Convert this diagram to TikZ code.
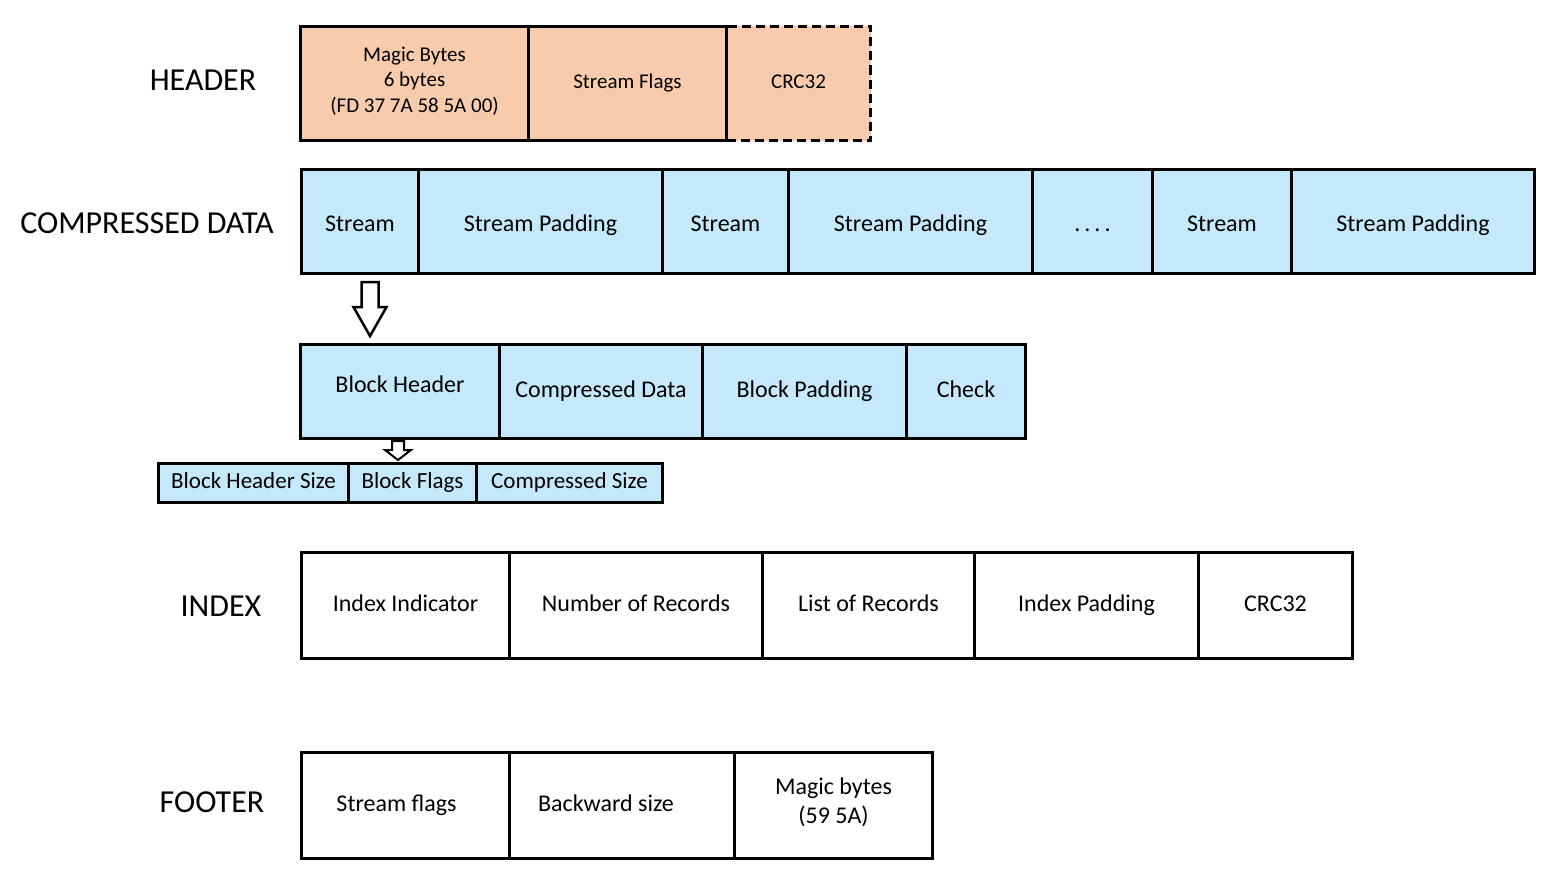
\documentclass[tikz,border=0pt]{standalone}
\usepackage{fontspec}
\setmainfont{Carlito}
\usetikzlibrary{positioning}
\definecolor{peach}{RGB}{248,203,173}
\definecolor{paleblue}{RGB}{197,233,250}
\tikzset{>=latex}
\tikzset{cell/.style={draw, line width=3pt, inner sep=0pt, anchor=north west,
    align=center, font=\fontsize{24}{29}\selectfont, execute at begin node=\strut}}
\tikzset{hdrcell/.style={cell, fill=peach, minimum height=114pt,
    font=\fontsize{21}{25.5}\selectfont}}
\tikzset{datacell/.style={cell, fill=paleblue, minimum height=104pt}}
\tikzset{blockcell/.style={cell, fill=paleblue, minimum height=94pt}}
\tikzset{subcell/.style={cell, fill=paleblue, minimum height=39pt,
    font=\fontsize{23}{27}\selectfont}}
\tikzset{tablecell/.style={cell, fill=white, minimum height=106pt}}
\tikzset{rowlabel/.style={font=\fontsize{32}{37}\selectfont, inner sep=0pt}}
\tikzset{hollow/.style={draw, line width=2.5pt, fill=white, line join=miter}}

\begin{document}
\begin{tikzpicture}[x=1pt, y=-1pt]
  \useasboundingbox (0,0) rectangle (1550,875);%
  % header
  \node[rowlabel] (lblheader) at (203,80) {HEADER};%
  \node[hdrcell, dashed, dash pattern=on 9pt off 5pt, minimum width=144pt] (hcrc) at (725,25) {CRC32};%
  \node[hdrcell, minimum width=228pt] (hmagic) at (299,25) {Magic Bytes\\6 bytes\\(FD 37 7A 58 5A 00)};%
  \node[hdrcell, minimum width=198pt] (hflags) at (527,25) {Stream Flags};%
  % compressed data
  \node[rowlabel] (lbldata) at (147,223) {COMPRESSED DATA};%
  \node[datacell, minimum width=117pt] (strA) at (300,168) {\raisebox{-4pt}{Stream}};%
  \node[datacell, minimum width=244pt] (padA) at (417,168) {\raisebox{-4pt}{Stream Padding}};%
  \node[datacell, minimum width=126pt] (strB) at (661,168) {\raisebox{-4pt}{Stream}};%
  \node[datacell, minimum width=244pt] (padB) at (787,168) {\raisebox{-4pt}{Stream Padding}};%
  \node[datacell, minimum width=120pt] (more) at (1031,168) {\raisebox{-4pt}{.\,.\,.\,.}};%
  \node[datacell, minimum width=139pt] (strC) at (1151,168) {\raisebox{-4pt}{Stream}};%
  \node[datacell, minimum width=243pt] (padC) at (1290,168) {\raisebox{-4pt}{Stream Padding}};%
  % one stream
  \draw[hollow, shift={(370,282)}] (-8.5,0) -- (8.5,0) -- (8.5,25) -- (16.5,25) -- (0,54) -- (-16.5,25) -- (-8.5,25) -- cycle;%
  \node[blockcell, minimum width=199pt] (blkhdr) at (299,343) {\raisebox{5pt}{Block Header}};%
  \node[blockcell, minimum width=203pt] (blkdata) at (498,343) {Compressed Data};%
  \node[blockcell, minimum width=204pt] (blkpad) at (701,343) {Block Padding};%
  \node[blockcell, minimum width=119pt] (blkchk) at (905,343) {Check};%
  % block header fields
  \draw[hollow, line width=2pt, shift={(398,441)}] (-6,0) -- (6,0) -- (6,9) -- (13,9) -- (0,19) -- (-13,9) -- (-6,9) -- cycle;%
  \node[subcell, minimum width=190pt] (bhsize) at (157,462) {Block Header Size};%
  \node[subcell, minimum width=128pt] (bflags) at (347,462) {Block Flags};%
  \node[subcell, minimum width=186pt] (csize) at (475,462) {Compressed Size};%
  % index
  \node[rowlabel] (lblindex) at (221,606) {INDEX};%
  \node[tablecell, minimum width=208pt] (idxind) at (300,551) {Index Indicator};%
  \node[tablecell, minimum width=253pt] (idxnum) at (508,551) {Number of Records};%
  \node[tablecell, minimum width=212pt] (idxlist) at (761,551) {List of Records};%
  \node[tablecell, minimum width=224pt] (idxpad) at (973,551) {Index Padding};%
  \node[tablecell, minimum width=154pt] (idxcrc) at (1197,551) {CRC32};%
  % footer
  \node[rowlabel] (lblfooter) at (212,802) {FOOTER};%
  \node[tablecell, minimum width=208pt] (ftflags) at (300,751) {Stream flags\hspace*{18pt}};%
  \node[tablecell, minimum width=225pt] (ftback) at (508,751) {Backward size\hspace*{32pt}};%
  \node[tablecell, minimum width=198pt] (ftmagic) at (733,751) {Magic bytes\\(59 5A)};%
\end{tikzpicture}
\end{document}
